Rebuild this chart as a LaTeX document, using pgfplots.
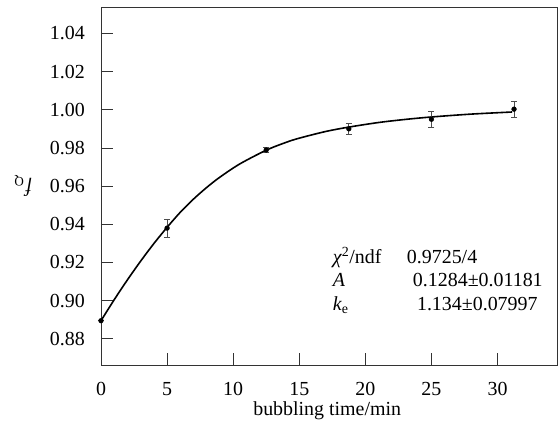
\documentclass[border=0pt]{standalone}
\usepackage{fontspec}
\setmainfont{Liberation Serif}
\usepackage{pgfplots}
\pgfplotsset{compat=1.18}
\begin{document}
\fontsize{20}{24}\selectfont
\begin{tikzpicture}
\begin{axis}[
  scale only axis,
  width=456bp, height=358bp,
  xmin=0, xmax=34.5,
  ymin=0.8663, ymax=1.0538,
  xtick={0,5,...,30},
  ytick={0.88,0.90,...,1.041},
  tick align=inside,
  tick pos=left,
  major tick length=12bp,
  axis line style={line width=0.8bp, black!80},
  tick style={line width=0.8bp, black!80},
  /pgf/number format/assume math mode=true,
  yticklabel style={/pgf/number format/fixed, /pgf/number format/fixed zerofill, /pgf/number format/precision=2, inner sep=0pt, anchor=east, xshift=-16bp},
  xticklabel style={inner sep=0pt, anchor=north, yshift=-17bp},
  font=\fontsize{20}{24}\selectfont,
  xlabel={bubbling time/min},
  ylabel={\textit{f}\raisebox{-0.25em}{\fontsize{13}{14}\selectfont Q}},
  xlabel style={at={(axis description cs:0.496,-0.1397)}, anchor=base, inner sep=0pt},
  ylabel style={at={(axis description cs:-0.171,0.5)}, anchor=center, inner sep=0pt, rotate=90},
  clip=false,
]
% fitted curve
\addplot[black, line width=1.6bp, smooth, tension=0.5] coordinates {
(0,0.8895) (1,0.9005) (2,0.9109) (3,0.9207) (4,0.9299) (5,0.9384)
(6,0.9463) (7,0.9532) (8,0.9593) (9,0.9647) (10.5,0.9716) (12.5,0.9788)
(14,0.9829) (15,0.9851) (17,0.9886) (18.75,0.9909) (21,0.9933) (23,0.9949)
(25,0.9962) (28,0.9977) (31.1,0.9988)
};
% data with error bars
\addplot[only marks, mark=*, mark size=2.4bp, black,
  error bars/.cd, y dir=both, y explicit,
  error bar style={line width=0.8bp, black!70},
  error mark options={rotate=90, mark size=3bp, line width=0.8bp, black!70}]
  table[x=t, y=f, y error=e] {
t f e
0 0.8895 0
5 0.9380 0.0048
12.5 0.9789 0.0015
18.75 0.9900 0.0029
25 0.9950 0.0043
31.25 1.0003 0.0043
};
\node[anchor=base west, inner sep=0] at (axis cs:17.52,0.9192) {\textit{χ}\textsuperscript{2}/ndf};
\node[anchor=base west, inner sep=0] at (axis cs:23.13,0.9192) {0.9725/4};
\node[anchor=base west, inner sep=0] at (axis cs:17.52,0.9072) {\textit{A}};
\node[anchor=base, inner sep=0] at (axis cs:28.51,0.9072) {0.1284±0.01181};
\node[anchor=base west, inner sep=0] at (axis cs:17.52,0.8951) {\textit{k}\textsubscript{e}};
\node[anchor=base, inner sep=0] at (axis cs:28.47,0.8951) {1.134±0.07997};
\end{axis}
\path ([shift={(-101bp,-65bp)}]current axis.south west) rectangle ([shift={(1bp,7bp)}]current axis.north east);
\end{tikzpicture}
\end{document}
